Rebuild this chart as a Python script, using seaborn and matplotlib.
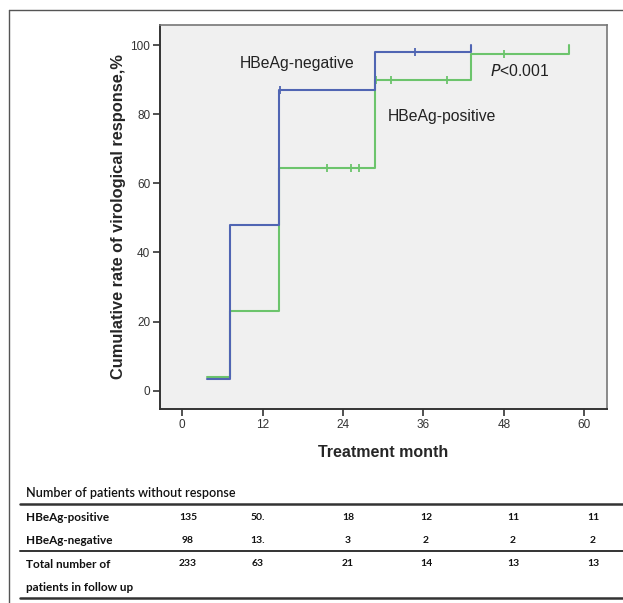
import matplotlib
matplotlib.use('Agg')
import matplotlib.pyplot as plt
import seaborn as sns
import pandas as pd
from matplotlib.lines import Line2D

# ---------- data ----------
neg_time = [3.7, 7.2, 14.5, 28.8, 43.1, 43.1]
neg_rate = [3.3, 48, 87, 98, 98, 100]
pos_time = [3.7, 7.2, 14.5, 28.8, 43.1, 57.7, 57.7]
pos_rate = [3.9, 23, 64.5, 90, 97.5, 97.5, 100]

neg_cens_time = [14.6, 34.8]
neg_cens_rate = [87, 98]
pos_cens_time = [21.6, 25.2, 26.4, 28.9, 31.1, 39.6, 48.0]
pos_cens_rate = [64.5, 64.5, 64.5, 90, 90, 90, 97.5]

x_ticks = [0, 12, 24, 36, 48, 60]
y_ticks = [0, 20, 40, 60, 80, 100]

row_labels = ['HBeAg-positive', 'HBeAg-negative', 'Total number of']
pos_counts = ['135', '50.', '18', '12', '11', '11']
neg_counts = ['98', '13.', '3', '2', '2', '2']
total_counts = ['233', '63', '21', '14', '13', '13']

blue = '#5065b3'
green = '#6cc46c'

sns.set_style('white')
plt.rcParams['font.family'] = ['Liberation Sans', 'DejaVu Sans']

fig = plt.figure(figsize=(6.23, 6.03), dpi=100)
ax = fig.add_axes([0.2568, 0.3217, 0.7175, 0.6368])
ax.set_facecolor('#f0f0f0')

pos_df = pd.DataFrame({'t': pos_time, 'r': pos_rate})
neg_df = pd.DataFrame({'t': neg_time, 'r': neg_rate})
sns.lineplot(data=pos_df, x='t', y='r', drawstyle='steps-post', color=green,
             lw=1.5, sort=False, estimator=None, ax=ax)
sns.lineplot(data=neg_df, x='t', y='r', drawstyle='steps-post', color=blue,
             lw=1.5, sort=False, estimator=None, ax=ax)

# censor marks
sns.scatterplot(x=pos_cens_time, y=pos_cens_rate, marker='|', s=40,
                color=green, linewidth=1.3, ax=ax)
sns.scatterplot(x=neg_cens_time, y=neg_cens_rate, marker='|', s=40,
                color=blue, linewidth=1.3, ax=ax)

ax.set_xlim(-3.3, 63.4)
ax.set_ylim(-5.3, 105.8)
ax.set_xticks(x_ticks)
ax.set_yticks(y_ticks)
ax.tick_params(axis='both', length=5, width=1.2, color='#333333',
               labelsize=8.5, labelcolor='#333333', direction='out', pad=2,
               bottom=True, left=True)
for side in ['left', 'bottom']:
    ax.spines[side].set_color('#333333')
    ax.spines[side].set_linewidth(1.4)
for side in ['top', 'right']:
    ax.spines[side].set_color('#777777')
    ax.spines[side].set_linewidth(1.2)

ax.set_xlabel('Treatment month', fontsize=11.5, fontweight='bold', labelpad=10)
ax.set_ylabel('Cumulative rate of virological response,%', fontsize=11.8,
              fontweight='bold', labelpad=3)

ax.text(17.2, 94.8, 'HBeAg-negative', fontsize=11.3, ha='center', va='center',
        color='#222222')
ax.text(30.7, 79.2, 'HBeAg-positive', fontsize=11.3, ha='left', va='center',
        color='#222222')
ax.text(46, 92.5, '$\\it{P}$<0.001', fontsize=11.3, ha='left', va='center',
        color='#222222')

# outer frame (top and left edges)
W, H = 623.0, 603.0
fig.add_artist(Line2D([9 / W, 1.0], [1 - 10 / H, 1 - 10 / H], color='#555555', lw=1.0))
fig.add_artist(Line2D([9 / W, 9 / W], [0, 1 - 10 / H], color='#555555', lw=1.0))

# ---------- table under the chart ----------
tfont = ['Lato', 'DejaVu Sans']
fig.text(26 / W, 1 - 493 / H, 'Number of patients without response', fontsize=9,
         family=tfont, fontweight='semibold', va='center', ha='left', color='#111111')
for yy, lw in [(504.3, 1.8), (551, 1.4), (597.7, 1.8)]:
    fig.add_artist(Line2D([20 / W, 1.0], [1 - yy / H, 1 - yy / H], color='#333333', lw=lw))

row_y = [517.3, 540.3, 564]
col_x = [188, 258, 348, 426, 513, 593]
for lab, yy in zip(row_labels, row_y):
    fig.text(26 / W, 1 - yy / H, lab, fontsize=8.5, fontweight='bold', family=tfont,
             va='center', ha='left', color='#111111')
fig.text(26 / W, 1 - 587.3 / H, 'patients in follow up', fontsize=8.5, fontweight='bold',
         family=tfont, va='center', ha='left', color='#111111')
for vals, yy in zip([pos_counts, neg_counts, total_counts], row_y):
    for v, xx in zip(vals, col_x):
        fig.text(xx / W, 1 - yy / H, v, fontsize=7.5, fontweight='bold', family=tfont,
                 va='center', ha='center', color='#111111')

fig.savefig('out.png', dpi=100, facecolor='white')
